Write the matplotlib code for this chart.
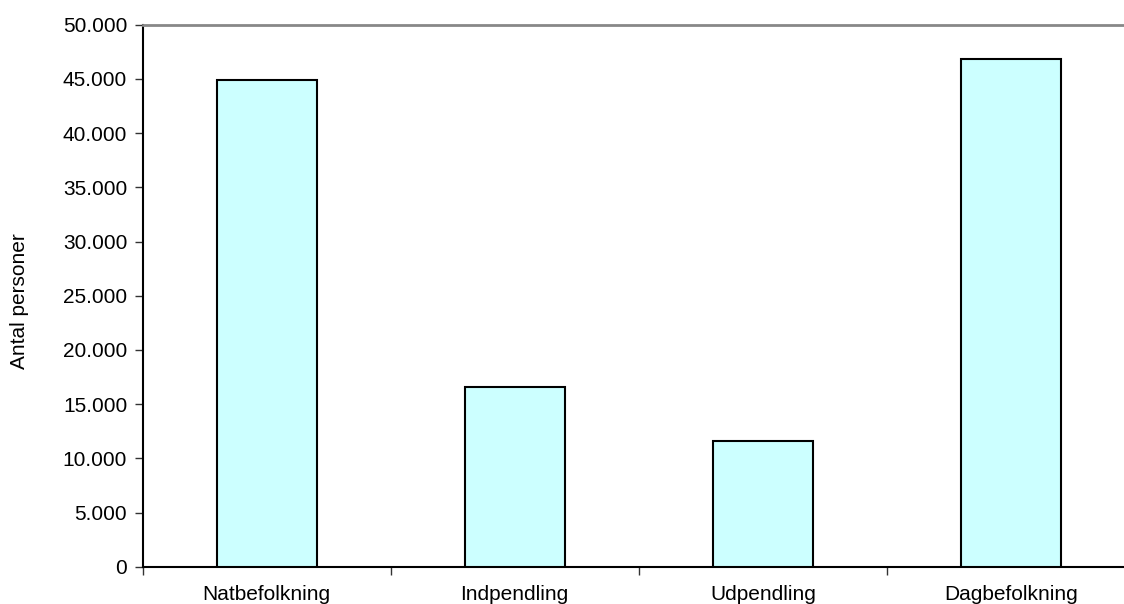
import matplotlib
matplotlib.use("Agg")
import matplotlib.pyplot as plt
from matplotlib.ticker import FuncFormatter, MultipleLocator

categories = ["Natbefolkning", "Indpendling", "Udpendling", "Dagbefolkning"]
values = [44900, 16560, 11570, 46800]
y_label = "Antal personer"

plt.rcParams['font.family'] = ['Liberation Sans', 'DejaVu Sans']

fig = plt.figure(figsize=(11.24, 6.04), dpi=100)
ax = fig.add_axes([0.1268, 0.0613, 0.8830, 0.8981])

x = list(range(len(categories)))
ax.bar(x, values, width=0.403, color="#CCFFFF", edgecolor="black", linewidth=1.5, zorder=3)

ax.set_xlim(-0.5, len(categories) - 0.5)
ax.set_ylim(0, 50000)
ax.yaxis.set_major_locator(MultipleLocator(5000))
ax.yaxis.set_major_formatter(FuncFormatter(lambda v, p: f"{int(v):,}".replace(",", ".")))

ax.set_xticks([i - 0.5 for i in range(len(categories) + 1)])
ax.set_xticklabels([])
ax.set_xticks(x, minor=True)
ax.set_xticklabels(categories, minor=True)
ax.tick_params(axis="x", which="minor", length=0, pad=13, labelsize=15)
ax.tick_params(axis="x", which="major", length=6, width=1, color="#333333")
ax.tick_params(axis="y", length=6, width=1, color="#333333", pad=5, labelsize=15)

ax.spines["left"].set_linewidth(1.5)
ax.spines["left"].set_color("black")
ax.spines["bottom"].set_linewidth(1.5)
ax.spines["bottom"].set_color("black")
ax.spines["top"].set_linewidth(2)
ax.spines["top"].set_color("#888888")
ax.spines["right"].set_visible(False)

ax.set_ylabel(y_label, fontsize=15)
ax.yaxis.set_label_coords(-0.114, 0.49)

fig.savefig("out.png", dpi=100)
